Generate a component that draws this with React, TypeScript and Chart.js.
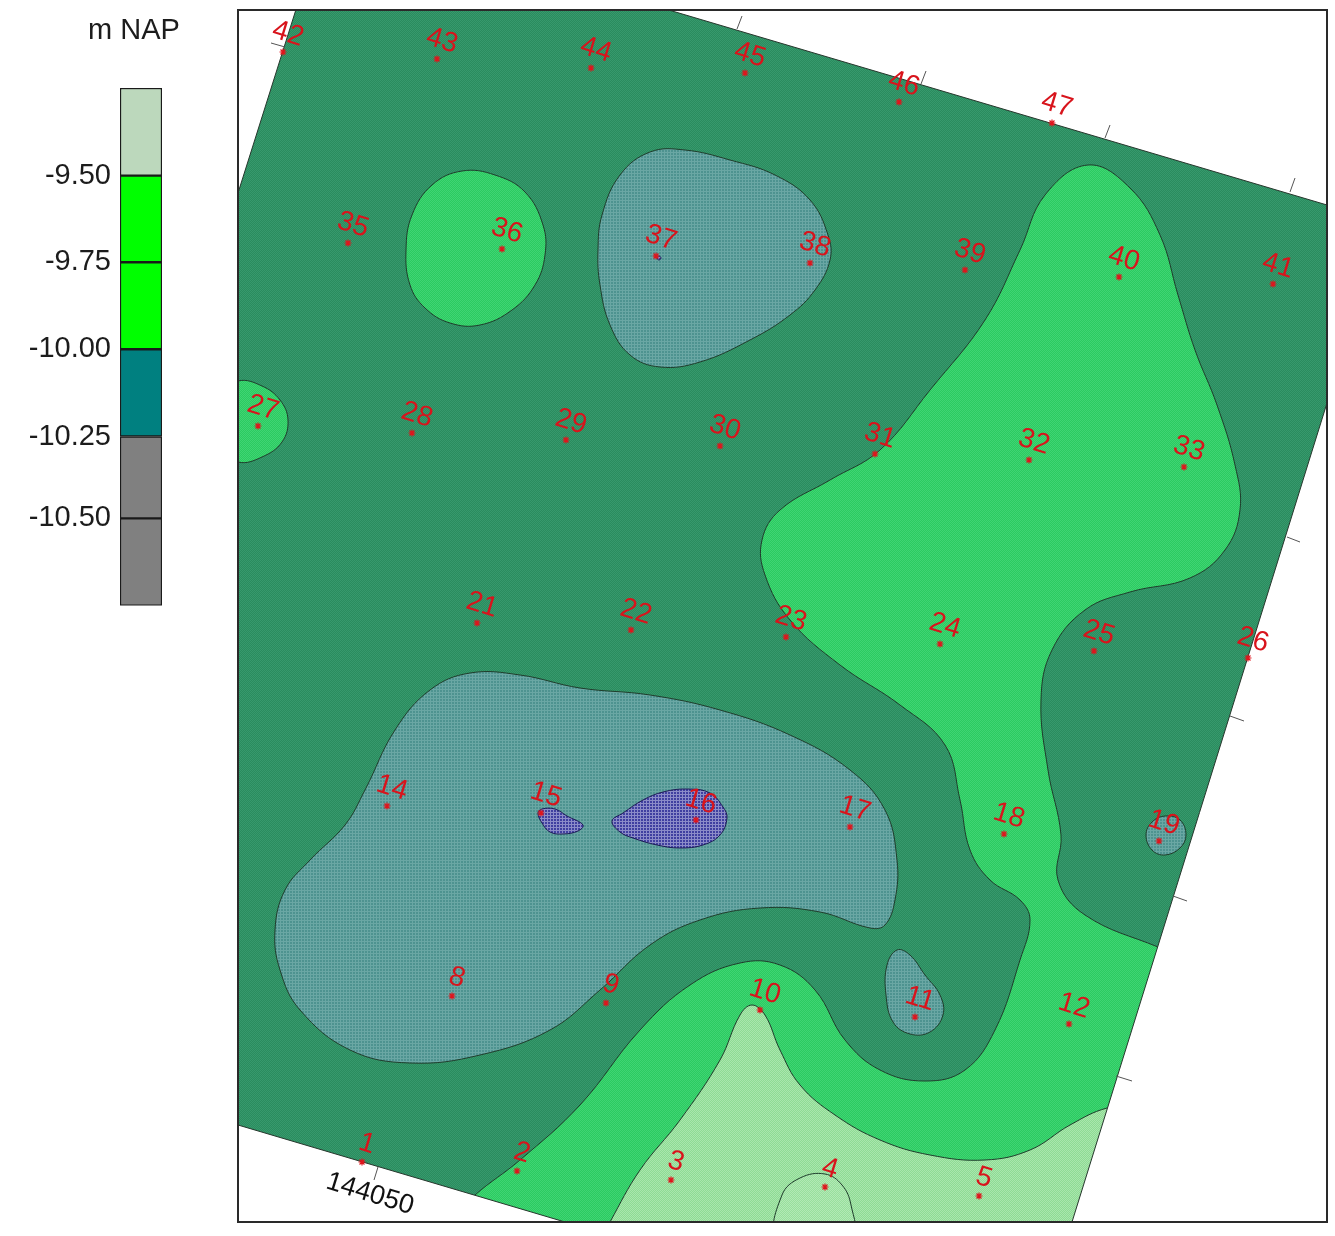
import React, { useEffect, useRef } from "react";
import { Chart, registerables } from "chart.js";

Chart.register(...registerables);

type Pt = [number, number];

// Class legend (m NAP)
const legendEdges = [-9.25, -9.504, -9.755, -10.007, -10.26, -10.497, -10.75];
const legendColors = ["#bcd8bc", "#00ff00", "#00ff00", "#008080", "#808080", "#808080"];
const legendTicks = [-9.504, -9.755, -10.007, -10.26, -10.497];
const legendTickLabels = ["-9.50", "-9.75", "-10.00", "-10.25", "-10.50"];
const legendTitle = "m NAP";

// Borehole ids and positions, in map units
const wellIds = [1, 2, 3, 4, 5, 8, 9, 10, 11, 12, 14, 15, 16, 17, 18, 19, 21, 22, 23, 24, 25, 26, 27, 28, 29, 30, 31, 32, 33, 35, 36, 37, 38, 39, 40, 41, 42, 43, 44, 45, 46, 47];
const wellX = [362, 517, 671, 825, 979, 452, 606, 760, 915, 1069, 387, 541, 696, 850, 1004, 1159, 477, 631, 786, 940, 1094, 1248, 258, 412, 566, 720, 875, 1029, 1184, 348, 502, 656, 810, 965, 1119, 1273, 283, 437, 591, 745, 899, 1052];
const wellY = [1162, 1171, 1180, 1187, 1196, 996, 1003, 1010, 1017, 1024, 806, 813, 820, 827, 834, 841, 623, 630, 637, 644, 651, 658, 426, 433, 440, 446, 454, 460, 467, 243, 249, 256, 263, 270, 277, 284, 52, 59, 68, 73, 102, 123];

// Contour outlines, in map units
const baseArea: Pt[] = [[230, 0], [1335, 0], [1335, 1236], [230, 1236]];
const midMain: Pt[] = [[1088, 165], [1130, 188], [1160, 235], [1178, 295], [1195, 350], [1217, 405], [1235, 465], [1240, 510], [1225, 550], [1190, 578], [1130, 592], [1085, 610], [1052, 650], [1041, 700], [1048, 770], [1061, 835], [1058, 880], [1085, 915], [1158, 947], [1230, 975], [1230, 1150], [1150, 1260], [700, 1290], [440, 1230], [475, 1195], [520, 1160], [580, 1105], [640, 1030], [690, 985], [740, 963], [780, 965], [815, 990], [845, 1040], [880, 1070], [925, 1081], [965, 1070], [995, 1030], [1020, 960], [1030, 920], [1020, 900], [990, 880], [970, 850], [960, 800], [945, 745], [900, 705], [840, 665], [790, 620], [765, 575], [762, 540], [780, 510], [830, 480], [880, 450], [930, 390], [985, 320], [1020, 250], [1045, 195]];
const lightMain: Pt[] = [[752, 1005], [765, 1015], [780, 1050], [800, 1085], [835, 1115], [880, 1140], [930, 1155], [985, 1160], [1030, 1150], [1070, 1125], [1107, 1108], [1160, 1100], [1180, 1200], [1100, 1270], [800, 1290], [590, 1260], [610, 1222], [640, 1170], [680, 1120], [720, 1060], [740, 1015]];
const lightCore: Pt[] = [[825, 1174], [842, 1185], [851, 1205], [853, 1240], [815, 1262], [776, 1240], [782, 1195], [800, 1178]];
const midIsle36: Pt[] = [[462, 171], [495, 175], [525, 192], [543, 225], [545, 255], [535, 285], [512, 310], [480, 325], [450, 323], [425, 308], [410, 285], [406, 250], [412, 215], [432, 185]];
const midIsle27: Pt[] = [[238, 381], [262, 386], [280, 400], [288, 420], [282, 442], [262, 457], [238, 462], [212, 445], [212, 398]];
const tealIsle37: Pt[] = [[685, 150], [730, 160], [775, 175], [810, 200], [828, 235], [830, 260], [815, 290], [790, 315], [750, 340], [700, 362], [660, 367], [630, 355], [610, 325], [600, 285], [598, 250], [602, 215], [620, 175], [650, 152]];
const tealMain: Pt[] = [[470, 673], [520, 675], [580, 688], [650, 695], [720, 710], [790, 735], [850, 770], [885, 810], [897, 860], [895, 900], [885, 925], [870, 928], [820, 912], [760, 908], [700, 920], [650, 945], [600, 990], [550, 1030], [480, 1055], [410, 1063], [350, 1050], [300, 1010], [280, 970], [275, 930], [285, 890], [310, 860], [345, 825], [365, 790], [395, 730], [430, 690]];
const tealIsle11: Pt[] = [[897, 950], [910, 955], [925, 975], [940, 995], [943, 1015], [930, 1032], [910, 1034], [893, 1022], [886, 995], [887, 965]];
const tealIsle19: Pt[] = [[1165, 816], [1180, 820], [1186, 835], [1180, 848], [1165, 855], [1152, 850], [1146, 835], [1152, 822]];
const blueIsle15: Pt[] = [[542, 809], [555, 809], [567, 816], [583, 825], [578, 831], [563, 834], [550, 832], [542, 823], [538, 813]];
const blueIsle16: Pt[] = [[687, 789], [710, 793], [723, 807], [727, 818], [720, 835], [703, 845], [680, 848], [657, 845], [633, 838], [620, 832], [612, 821], [623, 813], [643, 800], [663, 792]];
const blueIsle37: Pt[] = [[659, 256], [661, 258], [659, 260], [657, 258]];

// White ground outside the surveyed block
const outsideTL: Pt[] = [[220, 0], [299, 0], [238, 193], [220, 240]];
const outsideTR: Pt[] = [[635, 0], [1345, 0], [1345, 210], [1327, 205]];
const outsideBR: Pt[] = [[1345, 348], [1327, 403], [1072, 1222], [1065, 1245], [1345, 1245]];
const outsideBL: Pt[] = [[190, 1111], [238, 1125], [565, 1222], [640, 1245], [190, 1245]];

// Coordinate-grid tick marks
const gridTicks: Pt[][] = [
  [[271, 43], [285, 47]],
  [[737, 29], [742, 16]],
  [[921, 84], [926, 71]],
  [[1105, 138], [1110, 125]],
  [[1290, 192], [1295, 178]],
  [[1287, 537], [1300, 542]],
  [[1230, 716], [1244, 721]],
  [[1173, 896], [1187, 901]],
  [[1116, 1076], [1132, 1081]],
  [[378, 1167], [374, 1180]],
];
const gridLabel = { text: "144050", x: 370, y: 1194 };

function pattern(a: string, b: string, grid?: string) {
  const c = document.createElement("canvas");
  const n = grid ? 3 : 2;
  c.width = n;
  c.height = n;
  const g = c.getContext("2d")!;
  g.fillStyle = a;
  g.fillRect(0, 0, n, n);
  g.fillStyle = b;
  if (grid) {
    g.fillStyle = grid;
    g.fillRect(2, 0, 1, 3);
    g.fillRect(0, 2, 3, 1);
  } else {
    g.fillRect(0, 0, 1, 1);
    g.fillRect(1, 1, 1, 1);
  }
  return g.createPattern(c, "repeat")!;
}

const FONT = "'Liberation Sans', Arial, sans-serif";

export default function App() {
  const legendRef = useRef<HTMLCanvasElement>(null);
  const mapRef = useRef<HTMLCanvasElement>(null);

  useEffect(() => {
    const legend = new Chart(legendRef.current!, {
      type: "bar",
      data: {
        labels: [legendTitle],
        datasets: legendColors.map((color, i) => ({
          data: [[legendEdges[i + 1], legendEdges[i]]] as any,
          backgroundColor: color,
          borderColor: "#1a1a1a",
          borderWidth: 1.5,
          borderSkipped: false,
          barPercentage: 1,
          categoryPercentage: 1,
          grouped: false,
        })),
      },
      options: {
        responsive: false,
        animation: false,
        devicePixelRatio: 1,
        layout: { padding: { top: 88, bottom: 4, left: 0, right: 38 } },
        plugins: { legend: { display: false }, tooltip: { enabled: false } },
        scales: {
          x: { display: false },
          y: {
            min: legendEdges[legendEdges.length - 1],
            max: legendEdges[0],
            grid: { display: false, drawTicks: false },
            border: { display: false },
            afterFit: (s: any) => { s.width = 120; },
            afterBuildTicks: (s: any) => { s.ticks = legendTicks.map((value) => ({ value })); },
            ticks: {
              autoSkip: false,
              padding: 9,
              color: "#1c1c1c",
              font: { family: FONT, size: 29 },
              callback: (v: any) => legendTickLabels[legendTicks.indexOf(Number(v))] ?? "",
            },
          },
        },
      },
      plugins: [
        {
          id: "legendTitle",
          afterDraw(chart: any) {
            const g = chart.ctx;
            g.save();
            g.font = `29px ${FONT}`;
            g.fillStyle = "#1c1c1c";
            g.textAlign = "center";
            g.textBaseline = "middle";
            g.fillText(legendTitle, 134, 31);
            g.restore();
          },
        },
      ],
    } as any);

    const poly = (pts: Pt[], fill: any, stroke = "#1f3d2c", tension = 0.4, width = 1) => ({
      data: pts.map(([x, y]) => ({ x, y })),
      closedLoop: true,
      showLine: true,
      fill: "shape",
      backgroundColor: fill,
      borderColor: stroke,
      borderWidth: width,
      tension,
      pointRadius: 0,
    });

    const dark = pattern("#2a8c5e", "#37996d");
    const mid = pattern("#2bcb60", "#40d474");
    const light = pattern("#8edb94", "#a9e6ad");
    const core = pattern("#98df9d", "#b2e9b5");
    const teal = pattern("#4e9390", "#4e9390", "#6aa7a4");
    const blue = pattern("#4040a0", "#4040a0", "#8c8cc8");

    const layers: any[] = [
      poly(baseArea, dark, "transparent", 0, 0),
      poly(midMain, mid),
      poly(lightMain, light),
      poly(lightCore, core),
      poly(midIsle36, mid),
      poly(midIsle27, mid),
      poly(tealIsle37, teal),
      poly(tealMain, teal),
      poly(tealIsle11, teal),
      poly(tealIsle19, teal),
      poly(blueIsle15, blue, "#1c1c55"),
      poly(blueIsle16, blue, "#1c1c55"),
      poly(blueIsle37, blue, "#1c1c55"),
      poly(outsideTL, "#ffffff", "#26362c", 0),
      poly(outsideTR, "#ffffff", "#26362c", 0),
      poly(outsideBR, "#ffffff", "#26362c", 0),
      poly(outsideBL, "#ffffff", "#26362c", 0),
      ...gridTicks.map((seg) => ({
        data: seg.map(([x, y]) => ({ x, y })),
        showLine: true,
        fill: false,
        borderColor: "#555555",
        borderWidth: 1,
        pointRadius: 0,
        clip: false,
      })),
      {
        data: wellX.map((x, i) => ({ x, y: wellY[i] })),
        showLine: false,
        pointStyle: "star",
        pointRadius: 3.5,
        pointBorderColor: "#e0141c",
        pointBorderWidth: 1.2,
        pointBackgroundColor: "#e0141c",
      },
    ];
    layers.forEach((d, i) => { d.order = layers.length - i; });

    const map = new Chart(mapRef.current!, {
      type: "scatter",
      data: { datasets: layers },
      options: {
        responsive: false,
        animation: false,
        devicePixelRatio: 1,
        layout: { padding: { left: 8, right: 8, top: 10, bottom: 14 } },
        plugins: { legend: { display: false }, tooltip: { enabled: false } },
        scales: {
          x: { type: "linear", display: false, min: 238, max: 1327 },
          y: { type: "linear", display: false, min: 10, max: 1222, reverse: true },
        },
      },
      plugins: [
        {
          id: "closeContours",
          beforeDatasetsUpdate(chart: any) {
            chart.data.datasets.forEach((d: any, i: number) => {
              if (d.closedLoop) {
                const line = chart.getDatasetMeta(i).dataset;
                line._loop = true;
                line._fullLoop = true;
              }
            });
          },
        },
        {
          id: "labelsAndFrame",
          afterDatasetsDraw(chart: any) {
            const g = chart.ctx;
            const { x: sx, y: sy } = chart.scales;
            const tilt = (17 * Math.PI) / 180;
            const put = (text: string, x: number, y: number, font: string, color: string) => {
              g.save();
              g.translate(x, y);
              g.rotate(tilt);
              g.font = font;
              g.fillStyle = color;
              g.textAlign = "center";
              g.textBaseline = "middle";
              g.fillText(text, 0, 0);
              g.restore();
            };
            wellIds.forEach((id, i) => {
              put(String(id), sx.getPixelForValue(wellX[i]) + 5, sy.getPixelForValue(wellY[i]) - 18, `28px ${FONT}`, "#d8141c");
            });
            put(gridLabel.text, sx.getPixelForValue(gridLabel.x), sy.getPixelForValue(gridLabel.y), `27px ${FONT}`, "#111111");
            const a = chart.chartArea;
            g.save();
            g.strokeStyle = "#2a2a2a";
            g.lineWidth = 2;
            g.strokeRect(a.left, a.top, a.right - a.left, a.bottom - a.top);
            g.restore();
          },
        },
      ],
    } as any);

    return () => {
      legend.destroy();
      map.destroy();
    };
  }, []);

  return (
    <div style={{ position: "absolute", left: 0, top: 0, width: 1335, height: 1236, background: "#fff" }}>
      <canvas ref={legendRef} width={200} height={632} style={{ position: "absolute", left: 0, top: 0 }} />
      <canvas ref={mapRef} width={1105} height={1236} style={{ position: "absolute", left: 230, top: 0 }} />
    </div>
  );
}
